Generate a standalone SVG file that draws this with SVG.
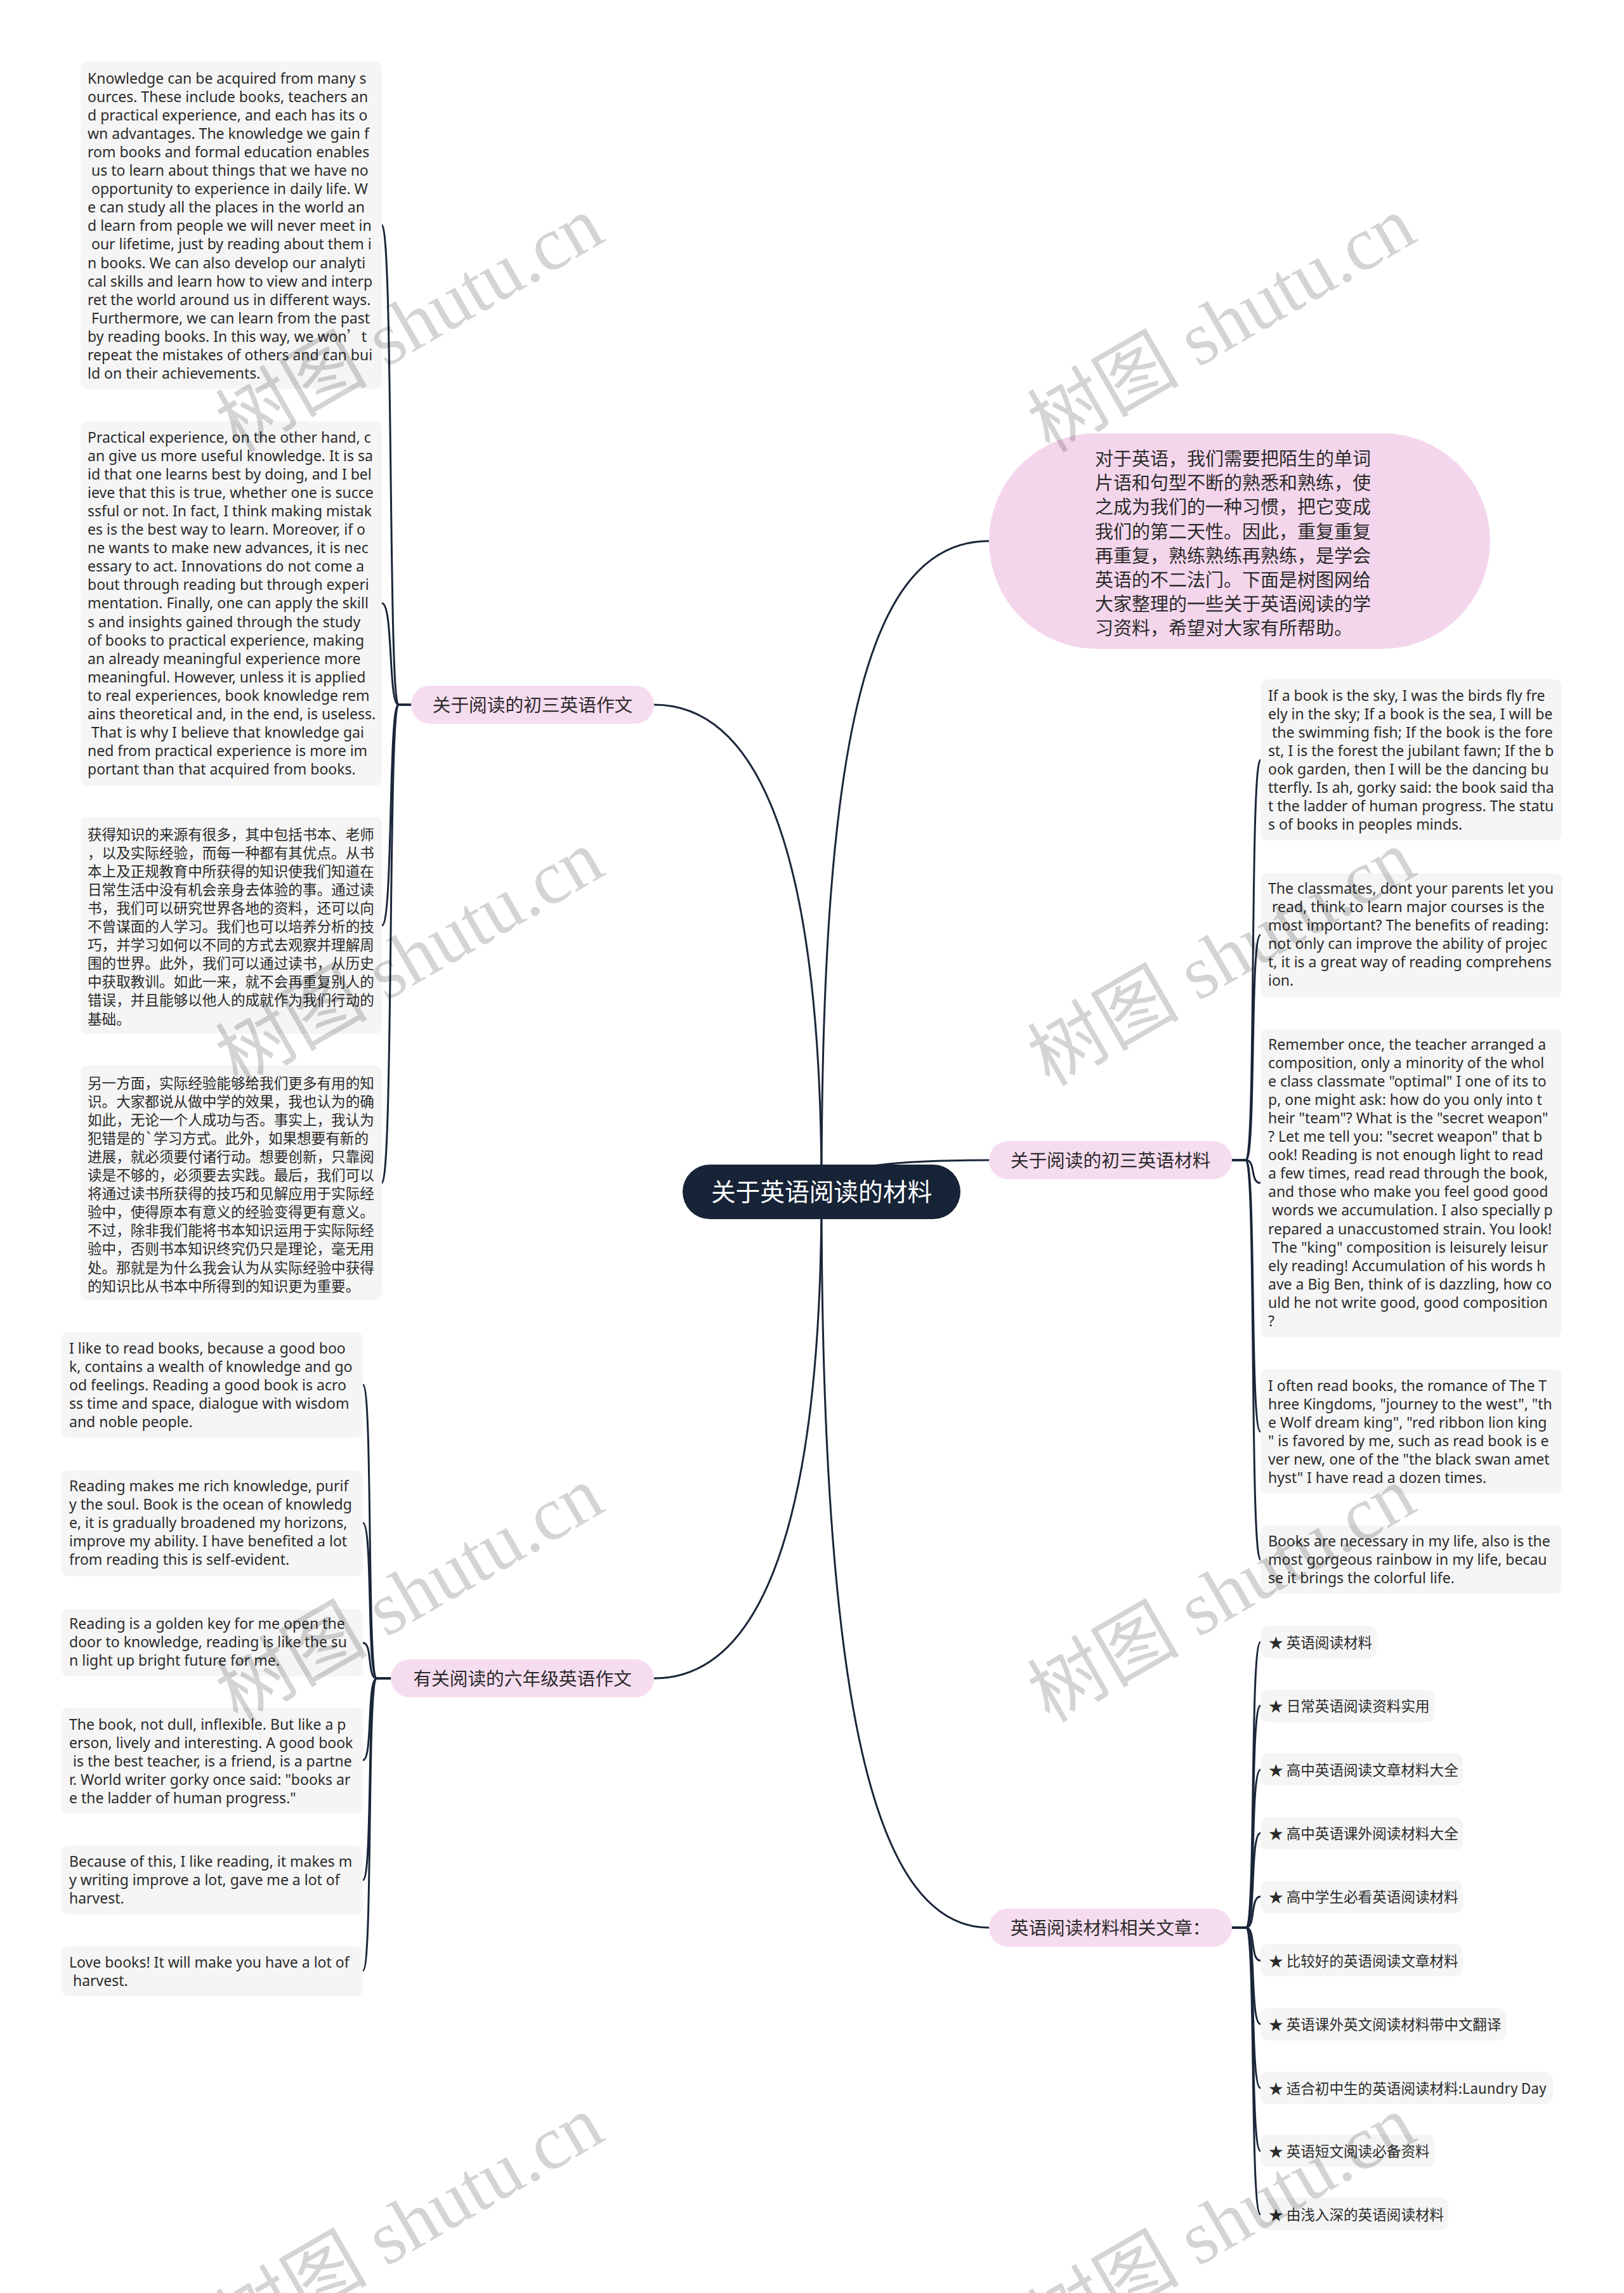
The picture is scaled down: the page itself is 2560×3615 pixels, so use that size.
<svg xmlns="http://www.w3.org/2000/svg" width="2560" height="3615" viewBox="0 0 2560 3615">
<style>
.bg{fill:#ffffff}
.box{fill:#f5f5f5}
.t{font-family:"Noto Sans","Noto Sans CJK SC",sans-serif;font-size:23px;fill:#2b2b2b}
.tc{font-family:"Noto Sans CJK SC",sans-serif;font-size:22.6px;fill:#2b2b2b}
.cj{font-family:"Noto Sans CJK SC",sans-serif}
.br{fill:#f6dcef}
.bt{font-family:"Noto Sans CJK SC",sans-serif;font-size:28.7px;fill:#2b2b2b;text-anchor:middle}
.ln{fill:none;stroke:#1a2639;stroke-width:3;stroke-linecap:round}
.wm{font-family:"Liberation Serif","Noto Sans CJK SC",serif;font-size:120px;fill:#000;fill-opacity:0.17;text-anchor:middle}
</style>
<rect class="bg" x="0" y="0" width="2560" height="3615"/>
<g id="connectors">
<path class="ln" d="M1295,1878 C1295,1300 1180,1111 1031,1111"/>
<path class="ln" d="M1295,1878 C1295,2456 1180,2646 1031,2646"/>
<path class="ln" d="M1295,1878 C1295,1150 1370,853 1559,853"/>
<path class="ln" d="M1295,1878 C1295,1840 1400,1829 1559,1829"/>
<path class="ln" d="M1295,1878 C1295,2700 1380,3039 1559,3039"/>
<path class="ln" d="M648,1111 L628,1111 C612,1111 620,355 602,355"/>
<path class="ln" d="M648,1111 L628,1111 C612,1111 620,951 602,951"/>
<path class="ln" d="M648,1111 L628,1111 C612,1111 620,1459 602,1459"/>
<path class="ln" d="M648,1111 L628,1111 C612,1111 620,1865 602,1865"/>
<path class="ln" d="M616,2646 L594,2646 C578,2646 588,2183 572,2183"/>
<path class="ln" d="M616,2646 L594,2646 C578,2646 588,2401 572,2401"/>
<path class="ln" d="M616,2646 L594,2646 C578,2646 588,2590 572,2590"/>
<path class="ln" d="M616,2646 L594,2646 C578,2646 588,2775 572,2775"/>
<path class="ln" d="M616,2646 L594,2646 C578,2646 588,2964 572,2964"/>
<path class="ln" d="M616,2646 L594,2646 C578,2646 588,3107 572,3107"/>
<path class="ln" d="M1942,1829 L1964,1829 C1980,1829 1970,1198 1987,1198"/>
<path class="ln" d="M1942,1829 L1964,1829 C1980,1829 1970,1474 1987,1474"/>
<path class="ln" d="M1942,1829 L1964,1829 C1980,1829 1970,1865 1987,1865"/>
<path class="ln" d="M1942,1829 L1964,1829 C1980,1829 1970,2257 1987,2257"/>
<path class="ln" d="M1942,1829 L1964,1829 C1980,1829 1970,2459 1987,2459"/>
<path class="ln" d="M1942,3039 L1964,3039 C1980,3039 1970,2589 1987,2589"/>
<path class="ln" d="M1942,3039 L1964,3039 C1980,3039 1970,2689 1987,2689"/>
<path class="ln" d="M1942,3039 L1964,3039 C1980,3039 1970,2790 1987,2790"/>
<path class="ln" d="M1942,3039 L1964,3039 C1980,3039 1970,2890 1987,2890"/>
<path class="ln" d="M1942,3039 L1964,3039 C1980,3039 1970,2990 1987,2990"/>
<path class="ln" d="M1942,3039 L1964,3039 C1980,3039 1970,3091 1987,3091"/>
<path class="ln" d="M1942,3039 L1964,3039 C1980,3039 1970,3191 1987,3191"/>
<path class="ln" d="M1942,3039 L1964,3039 C1980,3039 1970,3292 1987,3292"/>
<path class="ln" d="M1942,3039 L1964,3039 C1980,3039 1970,3391 1987,3391"/>
<path class="ln" d="M1942,3039 L1964,3039 C1980,3039 1970,3491 1987,3491"/>
</g>
<g id="root">
<rect x="1076" y="1836" width="438" height="86" rx="43" fill="#172336"/>
<text x="1295" y="1893" style="font-family:'Noto Sans CJK SC',sans-serif;font-size:38.7px;fill:#ffffff;text-anchor:middle">关于英语阅读的材料</text>
</g>
<g id="intro">
<rect x="1559" y="683" width="790" height="340" rx="170" fill="#f4d6ec"/>
<text class="cj" x="1726" y="734" style="font-size:29px;fill:#2b2b2b"><tspan x="1726" y="734">对于英语，我们需要把陌生的单词</tspan><tspan x="1726" y="772.2">片语和句型不断的熟悉和熟练，使</tspan><tspan x="1726" y="810.4">之成为我们的一种习惯，把它变成</tspan><tspan x="1726" y="848.6">我们的第二天性。因此，重复重复</tspan><tspan x="1726" y="886.8">再重复，熟练熟练再熟练，是学会</tspan><tspan x="1726" y="925">英语的不二法门。下面是树图网给</tspan><tspan x="1726" y="963.2">大家整理的一些关于英语阅读的学</tspan><tspan x="1726" y="1001.4">习资料，希望对大家有所帮助。</tspan></text>
</g>
<g id="branch-l1">
<rect class="br" x="648" y="1081" width="383" height="60" rx="30"/>
<text class="bt" x="839.5" y="1122">关于阅读的初三英语作文</text>
</g>
<g id="branch-l2">
<rect class="br" x="616" y="2616" width="415" height="60" rx="30"/>
<text class="bt" x="823.5" y="2657">有关阅读的六年级英语作文</text>
</g>
<g id="branch-r1">
<rect class="br" x="1559" y="1799" width="383" height="60" rx="30"/>
<text class="bt" x="1750.5" y="1840">关于阅读的初三英语材料</text>
</g>
<g id="branch-r2">
<rect class="br" x="1559" y="3009" width="383" height="60" rx="30"/>
<text class="bt" x="1750.5" y="3050">英语阅读材料相关文章：</text>
</g>
<g id="l1-1">
<rect class="box" x="127" y="97" width="475" height="516" rx="10"/>
<text class="t" xml:space="preserve"><tspan x="138" y="132">Knowledge can be acquired from many s</tspan><tspan x="138" dy="29.05">ources. These include books, teachers an</tspan><tspan x="138" dy="29.05">d practical experience, and each has its o</tspan><tspan x="138" dy="29.05">wn advantages. The knowledge we gain f</tspan><tspan x="138" dy="29.05">rom books and formal education enables</tspan><tspan x="138" dy="29.05"> us to learn about things that we have no</tspan><tspan x="138" dy="29.05"> opportunity to experience in daily life. W</tspan><tspan x="138" dy="29.05">e can study all the places in the world an</tspan><tspan x="138" dy="29.05">d learn from people we will never meet in</tspan><tspan x="138" dy="29.05"> our lifetime, just by reading about them i</tspan><tspan x="138" dy="29.05">n books. We can also develop our analyti</tspan><tspan x="138" dy="29.05">cal skills and learn how to view and interp</tspan><tspan x="138" dy="29.05">ret the world around us in different ways.</tspan><tspan x="138" dy="29.05"> Furthermore, we can learn from the past</tspan><tspan x="138" dy="29.05">by reading books. In this way, we won<tspan class="cj">’</tspan>t</tspan><tspan x="138" dy="29.05">repeat the mistakes of others and can bui</tspan><tspan x="138" dy="29.05">ld on their achievements.</tspan></text>
</g>
<g id="l1-2">
<rect class="box" x="127" y="664" width="475" height="575" rx="10"/>
<text class="t" xml:space="preserve"><tspan x="138" y="698">Practical experience, on the other hand, c</tspan><tspan x="138" dy="29.05">an give us more useful knowledge. It is sa</tspan><tspan x="138" dy="29.05">id that one learns best by doing, and I bel</tspan><tspan x="138" dy="29.05">ieve that this is true, whether one is succe</tspan><tspan x="138" dy="29.05">ssful or not. In fact, I think making mistak</tspan><tspan x="138" dy="29.05">es is the best way to learn. Moreover, if o</tspan><tspan x="138" dy="29.05">ne wants to make new advances, it is nec</tspan><tspan x="138" dy="29.05">essary to act. Innovations do not come a</tspan><tspan x="138" dy="29.05">bout through reading but through experi</tspan><tspan x="138" dy="29.05">mentation. Finally, one can apply the skill</tspan><tspan x="138" dy="29.05">s and insights gained through the study</tspan><tspan x="138" dy="29.05">of books to practical experience, making</tspan><tspan x="138" dy="29.05">an already meaningful experience more</tspan><tspan x="138" dy="29.05">meaningful. However, unless it is applied</tspan><tspan x="138" dy="29.05">to real experiences, book knowledge rem</tspan><tspan x="138" dy="29.05">ains theoretical and, in the end, is useless.</tspan><tspan x="138" dy="29.05"> That is why I believe that knowledge gai</tspan><tspan x="138" dy="29.05">ned from practical experience is more im</tspan><tspan x="138" dy="29.05">portant than that acquired from books.</tspan></text>
</g>
<g id="l1-3">
<rect class="box" x="127" y="1288" width="475" height="342" rx="10"/>
<text class="tc"><tspan x="138" y="1324">获得知识的来源有很多，其中包括书本、老师</tspan><tspan x="138" dy="29.05">，以及实际经验，而每一种都有其优点。从书</tspan><tspan x="138" dy="29.05">本上及正规教育中所获得的知识使我们知道在</tspan><tspan x="138" dy="29.05">日常生活中没有机会亲身去体验的事。通过读</tspan><tspan x="138" dy="29.05">书，我们可以研究世界各地的资料，还可以向</tspan><tspan x="138" dy="29.05">不曾谋面的人学习。我们也可以培养分析的技</tspan><tspan x="138" dy="29.05">巧，并学习如何以不同的方式去观察并理解周</tspan><tspan x="138" dy="29.05">围的世界。此外，我们可以通过读书，从历史</tspan><tspan x="138" dy="29.05">中获取教训。如此一来，就不会再重复别人的</tspan><tspan x="138" dy="29.05">错误，并且能够以他人的成就作为我们行动的</tspan><tspan x="138" dy="29.05">基础。</tspan></text>
</g>
<g id="l1-4">
<rect class="box" x="127" y="1680" width="475" height="370" rx="10"/>
<text class="tc"><tspan x="138" y="1716">另一方面，实际经验能够给我们更多有用的知</tspan><tspan x="138" dy="29.05">识。大家都说从做中学的效果，我也认为的确</tspan><tspan x="138" dy="29.05">如此，无论一个人成功与否。事实上，我认为</tspan><tspan x="138" dy="29.05">犯错是的`学习方式。此外，如果想要有新的</tspan><tspan x="138" dy="29.05">进展，就必须要付诸行动。想要创新，只靠阅</tspan><tspan x="138" dy="29.05">读是不够的，必须要去实践。最后，我们可以</tspan><tspan x="138" dy="29.05">将通过读书所获得的技巧和见解应用于实际经</tspan><tspan x="138" dy="29.05">验中，使得原本有意义的经验变得更有意义。</tspan><tspan x="138" dy="29.05">不过，除非我们能将书本知识运用于实际际经</tspan><tspan x="138" dy="29.05">验中，否则书本知识终究仍只是理论，毫无用</tspan><tspan x="138" dy="29.05">处。那就是为什么我会认为从实际经验中获得</tspan><tspan x="138" dy="29.05">的知识比从书本中所得到的知识更为重要。</tspan></text>
</g>
<g id="l2-1">
<rect class="box" x="97" y="2100" width="475" height="167" rx="10"/>
<text class="t" xml:space="preserve"><tspan x="109" y="2134">I like to read books, because a good boo</tspan><tspan x="109" dy="29.05">k, contains a wealth of knowledge and go</tspan><tspan x="109" dy="29.05">od feelings. Reading a good book is acro</tspan><tspan x="109" dy="29.05">ss time and space, dialogue with wisdom</tspan><tspan x="109" dy="29.05">and noble people.</tspan></text>
</g>
<g id="l2-2">
<rect class="box" x="97" y="2318" width="475" height="167" rx="10"/>
<text class="t" xml:space="preserve"><tspan x="109" y="2351">Reading makes me rich knowledge, purif</tspan><tspan x="109" dy="29.05">y the soul. Book is the ocean of knowledg</tspan><tspan x="109" dy="29.05">e, it is gradually broadened my horizons,</tspan><tspan x="109" dy="29.05">improve my ability. I have benefited a lot</tspan><tspan x="109" dy="29.05">from reading this is self-evident.</tspan></text>
</g>
<g id="l2-3">
<rect class="box" x="97" y="2537" width="475" height="106" rx="10"/>
<text class="t" xml:space="preserve"><tspan x="109" y="2568">Reading is a golden key for me open the</tspan><tspan x="109" dy="29.05">door to knowledge, reading is like the su</tspan><tspan x="109" dy="29.05">n light up bright future for me.</tspan></text>
</g>
<g id="l2-4">
<rect class="box" x="97" y="2692" width="475" height="167" rx="10"/>
<text class="t" xml:space="preserve"><tspan x="109" y="2727">The book, not dull, inflexible. But like a p</tspan><tspan x="109" dy="29.05">erson, lively and interesting. A good book</tspan><tspan x="109" dy="29.05"> is the best teacher, is a friend, is a partne</tspan><tspan x="109" dy="29.05">r. World writer gorky once said: "books ar</tspan><tspan x="109" dy="29.05">e the ladder of human progress."</tspan></text>
</g>
<g id="l2-5">
<rect class="box" x="97" y="2910" width="475" height="108" rx="10"/>
<text class="t" xml:space="preserve"><tspan x="109" y="2943">Because of this, I like reading, it makes m</tspan><tspan x="109" dy="29.05">y writing improve a lot, gave me a lot of</tspan><tspan x="109" dy="29.05">harvest.</tspan></text>
</g>
<g id="l2-6">
<rect class="box" x="97" y="3068" width="475" height="79" rx="10"/>
<text class="t" xml:space="preserve"><tspan x="109" y="3102">Love books! It will make you have a lot of</tspan><tspan x="109" dy="29.05"> harvest.</tspan></text>
</g>
<g id="r1-1">
<rect class="box" x="1987" y="1071" width="475" height="254" rx="10"/>
<text class="t" xml:space="preserve"><tspan x="1999" y="1105">If a book is the sky, I was the birds fly fre</tspan><tspan x="1999" dy="29.05">ely in the sky; If a book is the sea, I will be</tspan><tspan x="1999" dy="29.05"> the swimming fish; If the book is the fore</tspan><tspan x="1999" dy="29.05">st, I is the forest the jubilant fawn; If the b</tspan><tspan x="1999" dy="29.05">ook garden, then I will be the dancing bu</tspan><tspan x="1999" dy="29.05">tterfly. Is ah, gorky said: the book said tha</tspan><tspan x="1999" dy="29.05">t the ladder of human progress. The statu</tspan><tspan x="1999" dy="29.05">s of books in peoples minds.</tspan></text>
</g>
<g id="r1-2">
<rect class="box" x="1987" y="1377" width="475" height="195" rx="10"/>
<text class="t" xml:space="preserve"><tspan x="1999" y="1409">The classmates, dont your parents let you</tspan><tspan x="1999" dy="29.05"> read, think to learn major courses is the</tspan><tspan x="1999" dy="29.05">most important? The benefits of reading:</tspan><tspan x="1999" dy="29.05">not only can improve the ability of projec</tspan><tspan x="1999" dy="29.05">t, it is a great way of reading comprehens</tspan><tspan x="1999" dy="29.05">ion.</tspan></text>
</g>
<g id="r1-3">
<rect class="box" x="1987" y="1622" width="475" height="486" rx="10"/>
<text class="t" xml:space="preserve"><tspan x="1999" y="1655">Remember once, the teacher arranged a</tspan><tspan x="1999" dy="29.05">composition, only a minority of the whol</tspan><tspan x="1999" dy="29.05">e class classmate "optimal" I one of its to</tspan><tspan x="1999" dy="29.05">p, one might ask: how do you only into t</tspan><tspan x="1999" dy="29.05">heir "team"? What is the "secret weapon"</tspan><tspan x="1999" dy="29.05">? Let me tell you: "secret weapon" that b</tspan><tspan x="1999" dy="29.05">ook! Reading is not enough light to read</tspan><tspan x="1999" dy="29.05">a few times, read read through the book,</tspan><tspan x="1999" dy="29.05">and those who make you feel good good</tspan><tspan x="1999" dy="29.05"> words we accumulation. I also specially p</tspan><tspan x="1999" dy="29.05">repared a unaccustomed strain. You look!</tspan><tspan x="1999" dy="29.05"> The "king" composition is leisurely leisur</tspan><tspan x="1999" dy="29.05">ely reading! Accumulation of his words h</tspan><tspan x="1999" dy="29.05">ave a Big Ben, think of is dazzling, how co</tspan><tspan x="1999" dy="29.05">uld he not write good, good composition</tspan><tspan x="1999" dy="29.05">?</tspan></text>
</g>
<g id="r1-4">
<rect class="box" x="1987" y="2159" width="475" height="196" rx="10"/>
<text class="t" xml:space="preserve"><tspan x="1999" y="2193">I often read books, the romance of The T</tspan><tspan x="1999" dy="29.05">hree Kingdoms, "journey to the west", "th</tspan><tspan x="1999" dy="29.05">e Wolf dream king", "red ribbon lion king</tspan><tspan x="1999" dy="29.05">" is favored by me, such as read book is e</tspan><tspan x="1999" dy="29.05">ver new, one of the "the black swan amet</tspan><tspan x="1999" dy="29.05">hyst" I have read a dozen times.</tspan></text>
</g>
<g id="r1-5">
<rect class="box" x="1987" y="2405" width="475" height="108" rx="10"/>
<text class="t" xml:space="preserve"><tspan x="1999" y="2438">Books are necessary in my life, also is the</tspan><tspan x="1999" dy="29.05">most gorgeous rainbow in my life, becau</tspan><tspan x="1999" dy="29.05">se it brings the colorful life.</tspan></text>
</g>
<g id="r2-1"><rect class="box" x="1987" y="2563" width="183" height="51" rx="12"/><text class="tc" x="2000" y="2598">★ 英语阅读材料</text></g>
<g id="r2-2"><rect class="box" x="1987" y="2664" width="274" height="51" rx="12"/><text class="tc" x="2000" y="2698">★ 日常英语阅读资料实用</text></g>
<g id="r2-3"><rect class="box" x="1987" y="2764" width="319" height="51" rx="12"/><text class="tc" x="2000" y="2799">★ 高中英语阅读文章材料大全</text></g>
<g id="r2-4"><rect class="box" x="1987" y="2865" width="319" height="51" rx="12"/><text class="tc" x="2000" y="2899">★ 高中英语课外阅读材料大全</text></g>
<g id="r2-5"><rect class="box" x="1987" y="2965" width="319" height="51" rx="12"/><text class="tc" x="2000" y="2999">★ 高中学生必看英语阅读材料</text></g>
<g id="r2-6"><rect class="box" x="1987" y="3065" width="319" height="51" rx="12"/><text class="tc" x="2000" y="3100">★ 比较好的英语阅读文章材料</text></g>
<g id="r2-7"><rect class="box" x="1987" y="3166" width="387" height="51" rx="12"/><text class="tc" x="2000" y="3200">★ 英语课外英文阅读材料带中文翻译</text></g>
<g id="r2-8"><rect class="box" x="1987" y="3266" width="461" height="51" rx="12"/><text class="tc" x="2000" y="3301">★ 适合初中生的英语阅读材料:Laundry Day</text></g>
<g id="r2-9"><rect class="box" x="1987" y="3365" width="274" height="51" rx="12"/><text class="tc" x="2000" y="3400">★ 英语短文阅读必备资料</text></g>
<g id="r2-10"><rect class="box" x="1987" y="3465" width="296" height="51" rx="12"/><text class="tc" x="2000" y="3500">★ 由浅入深的英语阅读材料</text></g>
<g id="watermarks">
<text class="wm" transform="translate(646,512) rotate(-30)" x="0" y="40">树图 shutu.cn</text>
<text class="wm" transform="translate(1926,512) rotate(-30)" x="0" y="40">树图 shutu.cn</text>
<text class="wm" transform="translate(646,1511) rotate(-30)" x="0" y="40">树图 shutu.cn</text>
<text class="wm" transform="translate(1926,1511) rotate(-30)" x="0" y="40">树图 shutu.cn</text>
<text class="wm" transform="translate(646,2514) rotate(-30)" x="0" y="40">树图 shutu.cn</text>
<text class="wm" transform="translate(1926,2514) rotate(-30)" x="0" y="40">树图 shutu.cn</text>
<text class="wm" transform="translate(646,3506) rotate(-30)" x="0" y="40">树图 shutu.cn</text>
<text class="wm" transform="translate(1926,3506) rotate(-30)" x="0" y="40">树图 shutu.cn</text>
</g>
</svg>
